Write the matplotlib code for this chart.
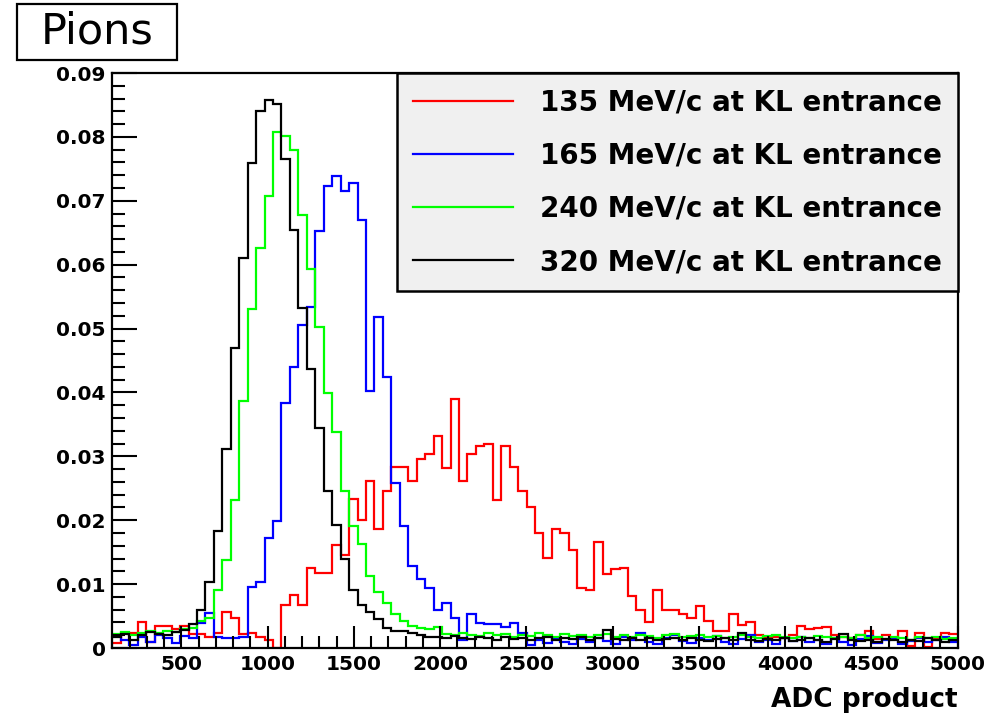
import numpy as np
import matplotlib
matplotlib.use('Agg')
import matplotlib.pyplot as plt
from matplotlib.patches import Rectangle
from matplotlib.ticker import MultipleLocator

# binning: 100 bins between 100 and 5000
bin_edges = np.linspace(100, 5000, 101)

labels = ['135 MeV/c at KL entrance', '165 MeV/c at KL entrance',
          '240 MeV/c at KL entrance', '320 MeV/c at KL entrance']
colors = ['#ff0000', '#0000ff', '#00ff00', '#000000']

h135 = [0.0008, 0.0023, 0.0023, 0.0041, 0.0010, 0.0034, 0.0034, 0.0029, 0.0034, 0.0022,
        0.0022, 0.0017, 0.0024, 0.0057, 0.0047, 0.0022, 0.0024, 0.0017, 0.0012, 0.0000,
        0.0068, 0.0083, 0.0067, 0.0125, 0.0117, 0.0117, 0.0162, 0.0145, 0.0233, 0.0200,
        0.0261, 0.0186, 0.0246, 0.0283, 0.0283, 0.0261, 0.0296, 0.0303, 0.0332, 0.0282,
        0.0390, 0.0262, 0.0303, 0.0316, 0.0319, 0.0232, 0.0316, 0.0283, 0.0245, 0.0220,
        0.0180, 0.0141, 0.0187, 0.0180, 0.0154, 0.0094, 0.0091, 0.0166, 0.0116, 0.0124,
        0.0126, 0.0082, 0.0060, 0.0040, 0.0091, 0.0060, 0.0059, 0.0054, 0.0047, 0.0066,
        0.0042, 0.0026, 0.0026, 0.0053, 0.0036, 0.0040, 0.0020, 0.0015, 0.0018, 0.0016,
        0.0020, 0.0035, 0.0030, 0.0031, 0.0033, 0.0020, 0.0018, 0.0015, 0.0020, 0.0026,
        0.0014, 0.0020, 0.0016, 0.0026, 0.0003, 0.0024, 0.0002, 0.0014, 0.0024, 0.0022]

h165 = [0.0020, 0.0012, 0.0005, 0.0018, 0.0010, 0.0020, 0.0016, 0.0008, 0.0019, 0.0015,
        0.0039, 0.0055, 0.0018, 0.0016, 0.0016, 0.0018, 0.0096, 0.0104, 0.0172, 0.0199,
        0.0383, 0.0440, 0.0505, 0.0534, 0.0652, 0.0723, 0.0739, 0.0715, 0.0728, 0.0670,
        0.0403, 0.0518, 0.0424, 0.0259, 0.0191, 0.0128, 0.0108, 0.0094, 0.0060, 0.0070,
        0.0047, 0.0013, 0.0053, 0.0039, 0.0038, 0.0037, 0.0033, 0.0039, 0.0023, 0.0005,
        0.0012, 0.0008, 0.0015, 0.0010, 0.0006, 0.0014, 0.0009, 0.0016, 0.0011, 0.0007,
        0.0018, 0.0012, 0.0024, 0.0010, 0.0006, 0.0015, 0.0021, 0.0011, 0.0008, 0.0016,
        0.0013, 0.0019, 0.0009, 0.0007, 0.0014, 0.0020, 0.0010, 0.0012, 0.0006, 0.0015,
        0.0011, 0.0018, 0.0009, 0.0013, 0.0007, 0.0016, 0.0010, 0.0005, 0.0014, 0.0019,
        0.0008, 0.0012, 0.0016, 0.0006, 0.0011, 0.0015, 0.0009, 0.0013, 0.0018, 0.0010]

h240 = [0.0022, 0.0025, 0.0020, 0.0024, 0.0026, 0.0023, 0.0027, 0.0025, 0.0030, 0.0031,
        0.0043, 0.0047, 0.0091, 0.0138, 0.0232, 0.0386, 0.0531, 0.0626, 0.0707, 0.0807,
        0.0801, 0.0780, 0.0677, 0.0594, 0.0503, 0.0399, 0.0338, 0.0245, 0.0191, 0.0163,
        0.0112, 0.0088, 0.0070, 0.0054, 0.0042, 0.0035, 0.0031, 0.0030, 0.0033, 0.0022,
        0.0020, 0.0024, 0.0021, 0.0019, 0.0023, 0.0020, 0.0022, 0.0018, 0.0021, 0.0019,
        0.0023, 0.0020, 0.0018, 0.0022, 0.0019, 0.0021, 0.0017, 0.0020, 0.0022, 0.0018,
        0.0020, 0.0017, 0.0021, 0.0019, 0.0016, 0.0020, 0.0022, 0.0018, 0.0019, 0.0021,
        0.0017, 0.0019, 0.0016, 0.0018, 0.0020, 0.0017, 0.0015, 0.0019, 0.0021, 0.0017,
        0.0016, 0.0018, 0.0015, 0.0019, 0.0017, 0.0015, 0.0018, 0.0016, 0.0020, 0.0015,
        0.0017, 0.0014, 0.0018, 0.0016, 0.0013, 0.0017, 0.0015, 0.0018, 0.0014, 0.0016]

h320 = [0.0018, 0.0022, 0.0012, 0.0020, 0.0025, 0.0022, 0.0020, 0.0025, 0.0028, 0.0037,
        0.0060, 0.0104, 0.0183, 0.0311, 0.0469, 0.0610, 0.0759, 0.0841, 0.0858, 0.0852,
        0.0765, 0.0655, 0.0532, 0.0437, 0.0345, 0.0245, 0.0193, 0.0140, 0.0091, 0.0068,
        0.0056, 0.0045, 0.0032, 0.0026, 0.0027, 0.0024, 0.0020, 0.0017, 0.0018, 0.0015,
        0.0019, 0.0016, 0.0014, 0.0018, 0.0015, 0.0013, 0.0017, 0.0014, 0.0016, 0.0012,
        0.0015, 0.0018, 0.0013, 0.0016, 0.0014, 0.0017, 0.0013, 0.0015, 0.0028, 0.0014,
        0.0012, 0.0016, 0.0013, 0.0015, 0.0012, 0.0014, 0.0016, 0.0012, 0.0015, 0.0013,
        0.0011, 0.0014, 0.0016, 0.0012, 0.0024, 0.0013, 0.0011, 0.0014, 0.0012, 0.0015,
        0.0011, 0.0013, 0.0016, 0.0012, 0.0010, 0.0014, 0.0022, 0.0012, 0.0011, 0.0013,
        0.0010, 0.0014, 0.0012, 0.0009, 0.0013, 0.0011, 0.0016, 0.0012, 0.0010, 0.0013]

x_ticks = [500, 1000, 1500, 2000, 2500, 3000, 3500, 4000, 4500, 5000]
y_ticks = [0, 0.01, 0.02, 0.03, 0.04, 0.05, 0.06, 0.07, 0.08, 0.09]
y_ticklabels = ['0', '0.01', '0.02', '0.03', '0.04', '0.05', '0.06', '0.07', '0.08', '0.09']

plt.rcParams['font.family'] = 'DejaVu Sans'

fig = plt.figure(figsize=(9.97, 7.23), dpi=100)
ax = fig.add_axes([0.1128, 0.1037, 0.8477, 0.7953])

for h, c, lab in zip([h135, h165, h240, h320], colors, labels):
    ax.stairs(h, bin_edges, baseline=None, color=c, lw=1.6, label=lab)

ax.set_xlim(100, 5000)
ax.set_ylim(0, 0.09)

ax.set_xticks(x_ticks)
ax.xaxis.set_minor_locator(MultipleLocator(100))
ax.set_yticks(y_ticks)
ax.set_yticklabels(y_ticklabels)
ax.yaxis.set_minor_locator(MultipleLocator(0.002))

ax.tick_params(which='both', direction='in', top=False, right=False, width=1.5,
               labelsize=14.5, pad=5)
ax.tick_params(axis='y', which='major', length=18)
ax.tick_params(axis='y', which='minor', length=9)
ax.tick_params(axis='x', which='major', length=16)
ax.tick_params(axis='x', which='minor', length=9)
for lbl in ax.get_xticklabels() + ax.get_yticklabels():
    lbl.set_fontweight('bold')
for sp in ax.spines.values():
    sp.set_linewidth(1.6)

ax.set_xlabel('ADC product', fontsize=19, fontweight='bold', ha='right')
ax.xaxis.set_label_coords(1.0, -0.067)

leg = ax.legend(loc='upper right', bbox_to_anchor=(1.0, 1.0), borderaxespad=0,
                prop={'size': 20, 'weight': 'bold'}, handlelength=3.6,
                handletextpad=1.0, labelspacing=0.91, borderpad=0.55,
                fancybox=False, framealpha=1, facecolor='#f0f0f0',
                edgecolor='black')
leg.get_frame().set_linewidth(1.8)
for line in leg.get_lines():
    line.set_linewidth(1.6)

# title box
fig.patches.append(Rectangle((17 / 997, 1 - 60 / 723), 160 / 997, 56 / 723,
                             transform=fig.transFigure, facecolor='white',
                             edgecolor='black', lw=1.6))
fig.text(97 / 997, 1 - 32 / 723, 'Pions', fontsize=31, ha='center', va='center')

fig.savefig('out.png', dpi=100)
